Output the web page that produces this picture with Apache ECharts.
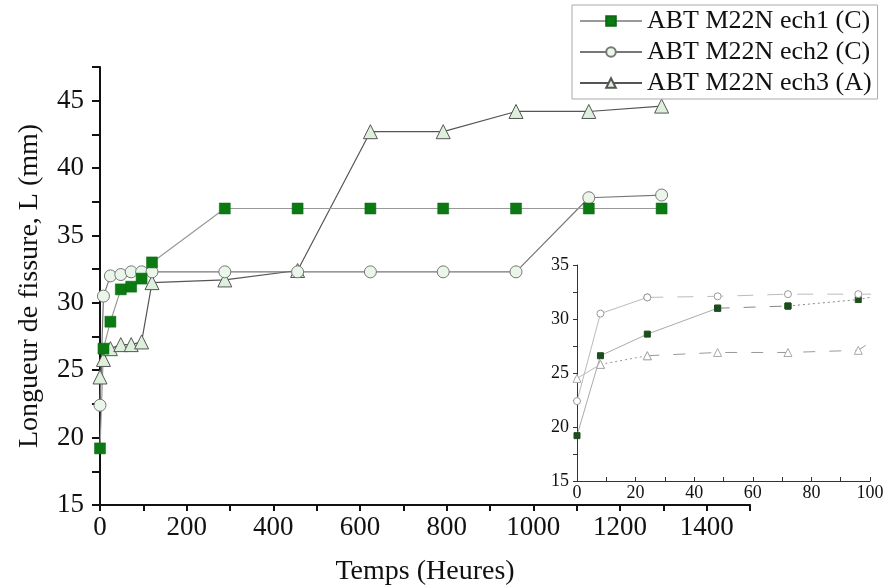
<!DOCTYPE html>
<html><head><meta charset="utf-8">
<script src="https://cdn.jsdelivr.net/npm/echarts@6/dist/echarts.min.js"></script>
<style>html,body{margin:0;padding:0;background:#fff}#c{width:885px;height:588px}</style>
</head><body><div id="c"></div>
<script>
// ---- data ----
const hours = [0, 8, 24, 48, 72, 96, 120, 288, 456, 624, 792, 960, 1128, 1296];
const ech1 = [19.2, 26.6, 28.6, 31.0, 31.2, 31.8, 33.0, 37.0, 37.0, 37.0, 37.0, 37.0, 37.0, 37.0];
const ech2 = [22.4, 30.5, 32.0, 32.1, 32.3, 32.3, 32.3, 32.3, 32.3, 32.3, 32.3, 32.3, 37.8, 38.0];
const ech3 = [24.5, 25.8, 26.6, 26.9, 26.9, 27.1, 31.5, 31.7, 32.4, 42.7, 42.7, 44.2, 44.2, 44.6];
const seriesNames = ['ABT M22N ech1 (C)', 'ABT M22N ech2 (C)', 'ABT M22N ech3 (A)'];
const xTitle = 'Temps (Heures)';
const yTitle = 'Longueur de fissure, L (mm)';

// ---- helpers ----
const FONT = 'Liberation Serif';
const pairs = (vals, a, b) => hours.map((h, i) => [h, vals[i]]).slice(a, b + 1);
const all = vals => pairs(vals, 0, hours.length - 1);

const mainSeries = [
  { name: seriesNames[2], data: all(ech3), symbol: 'triangle', symbolSize: 14,
    itemStyle: { color: '#ddf0dc', borderColor: '#555', borderWidth: 1 },
    lineStyle: { color: '#555', width: 1.2 } },
  { name: seriesNames[1], data: all(ech2), symbol: 'circle', symbolSize: 12,
    itemStyle: { color: '#eaf6ea', borderColor: '#777', borderWidth: 1 },
    lineStyle: { color: '#777', width: 1.2 } },
  { name: seriesNames[0], data: all(ech1), symbol: 'rect', symbolSize: 11,
    itemStyle: { color: '#0b7a12', borderColor: '#0b6a10', borderWidth: 0.5 },
    lineStyle: { color: '#999', width: 1.2 } }
].map(s => Object.assign({ type: 'line', xAxisIndex: 0, yAxisIndex: 0, showAllSymbol: true, z: 3 }, s));

function inset(name, vals, a, b, lineType, color, sym, symSize, itemStyle) {
  return { type: 'line', name: name, xAxisIndex: 1, yAxisIndex: 1, data: pairs(vals, a, b),
    symbol: sym, symbolSize: symSize, showAllSymbol: true, clip: true, z: 4,
    itemStyle: itemStyle, lineStyle: { color: color, width: 1, type: lineType } };
}
const sq = { color: '#1d4d1d', borderColor: '#1d4d1d' };
const ci = { color: '#fff', borderColor: '#999', borderWidth: 1 };
const tr = { color: '#fff', borderColor: '#aaa', borderWidth: 1 };
const insetSeries = [
  inset('i1a', ech1, 0, 3, 'solid', '#aaa', 'rect', 6, sq),
  inset('i1b', ech1, 3, 4, [12, 14], '#888', 'rect', 6, sq),
  inset('i1c', ech1, 4, 6, [2, 3], '#888', 'rect', 6, sq),
  inset('i2a', ech2, 0, 2, 'solid', '#bbb', 'circle', 7, ci),
  inset('i2b', ech2, 2, 6, [16, 14], '#bbb', 'circle', 7, ci),
  inset('i3a', ech3, 0, 1, 'solid', '#bbb', 'triangle', 8, tr),
  inset('i3b', ech3, 1, 2, [2, 3], '#999', 'triangle', 8, tr),
  inset('i3c', ech3, 2, 6, [12, 14], '#999', 'triangle', 8, tr)
];

const axisLine = { show: true, onZero: false, lineStyle: { color: '#111', width: 2 } };
const chart = echarts.init(document.getElementById('c'), null, { renderer: 'canvas' });
chart.setOption({
  animation: false,
  backgroundColor: '#fff',
  textStyle: { fontFamily: FONT, color: '#111' },
  legend: {
    data: seriesNames, orient: 'vertical', left: 572, top: 5,
    padding: [3, 6, 3, 7], itemGap: 5, itemWidth: 62, itemHeight: 12,
    borderColor: '#aaa', borderWidth: 1, backgroundColor: '#fff',
    textStyle: { fontFamily: FONT, fontSize: 26, color: '#111' }
  },
  grid: [
    { left: 100, right: 135, top: 67, bottom: 83, containLabel: false, outerBoundsMode: 'none' },
    { left: 577, top: 265, width: 293, height: 216, containLabel: false, outerBoundsMode: 'none' }
  ],
  xAxis: [
    { type: 'value', gridIndex: 0, min: 0, max: 1500, interval: 100,
      name: xTitle, nameLocation: 'middle', nameGap: 53,
      nameTextStyle: { fontFamily: FONT, fontSize: 28, color: '#111' },
      axisLine: axisLine, splitLine: { show: false },
      axisTick: { show: true, length: 6, lineStyle: { color: '#111', width: 2 } },
      axisLabel: { fontFamily: FONT, fontSize: 27, color: '#111', margin: 9,
        formatter: v => (v % 200 === 0 ? String(v) : '') } },
    { type: 'value', gridIndex: 1, min: 0, max: 100, interval: 10,
      axisLine: { show: true, onZero: false, lineStyle: { color: '#333', width: 1 } },
      splitLine: { show: false },
      axisTick: { show: true, inside: true, length: 4, lineStyle: { color: '#333' } },
      axisLabel: { fontFamily: FONT, fontSize: 18, color: '#111', margin: 3,
        formatter: v => (v % 20 === 0 ? String(v) : '') } }
  ],
  yAxis: [
    { type: 'value', gridIndex: 0, min: 15, max: 47.5, interval: 2.5,
      name: yTitle, nameLocation: 'middle', nameGap: 56,
      nameTextStyle: { fontFamily: FONT, fontSize: 28, color: '#111' },
      axisLine: axisLine, splitLine: { show: false },
      axisTick: { show: true, length: 8, lineStyle: { color: '#111', width: 2 } },
      axisLabel: { fontFamily: FONT, fontSize: 27, color: '#111', margin: 16,
        formatter: v => (v % 5 === 0 ? String(v) : '') } },
    { type: 'value', gridIndex: 1, min: 15, max: 35, interval: 2.5,
      axisLine: { show: true, onZero: false, lineStyle: { color: '#333', width: 1 } },
      splitLine: { show: false },
      axisTick: { show: true, length: 4, lineStyle: { color: '#333' } },
      axisLabel: { fontFamily: FONT, fontSize: 18, color: '#111', margin: 8,
        formatter: v => (v % 5 === 0 ? String(v) : '') } }
  ],
  series: mainSeries.concat(insetSeries)
});
</script>
</body></html>
